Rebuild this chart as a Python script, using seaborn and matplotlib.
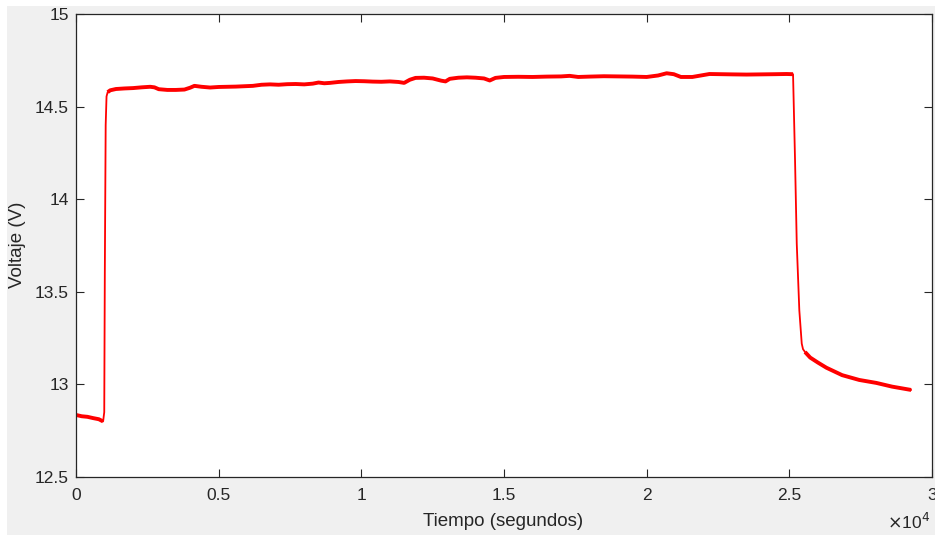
import numpy as np
import pandas as pd
import matplotlib
matplotlib.use("Agg")
import matplotlib.pyplot as plt
from matplotlib.patches import Rectangle
import seaborn as sns

# ---- data ----
tiempo = [0, 200, 400, 600, 800, 950,
          990, 1010, 1040, 1070, 1110,
          1200, 1400, 1700, 2000, 2300, 2600, 2750, 2900, 3200, 3500, 3800,
          4000, 4150, 4400, 4700, 5000, 5300, 5600, 5900, 6200, 6500, 6800,
          7100, 7400, 7700, 8000, 8300, 8500, 8700, 8900, 9200, 9500, 9800,
          10100, 10400, 10700, 11000, 11300, 11500, 11700, 11900, 12200,
          12500, 12800, 12950, 13100, 13400, 13700, 14000, 14300, 14500,
          14700, 15000, 15500, 16000, 16500, 17000, 17300, 17600, 18000,
          18500, 19000, 19500, 20000, 20400, 20700, 20950, 21200, 21600,
          21900, 22200, 22600, 23000, 23500, 24000, 24500, 24900, 25130,
          25200, 25260, 25350, 25435, 25480, 25550,
          25730, 25830, 26000, 26300, 26850, 27450, 28050, 28600, 29270]
voltaje = [12.835, 12.828, 12.825, 12.818, 12.812, 12.800,
           12.85, 13.6, 14.4, 14.555, 14.578,
           14.588, 14.595, 14.598, 14.600, 14.604, 14.607, 14.604, 14.594,
           14.590, 14.590, 14.592,
           14.602, 14.612, 14.607, 14.603, 14.606, 14.607, 14.608, 14.610,
           14.612, 14.618, 14.620,
           14.618, 14.621, 14.622, 14.620, 14.624, 14.630, 14.626, 14.628,
           14.633, 14.636, 14.638,
           14.637, 14.635, 14.634, 14.636, 14.633, 14.628, 14.645, 14.655,
           14.656,
           14.652, 14.640, 14.636, 14.650, 14.656, 14.658, 14.656, 14.652,
           14.641,
           14.655, 14.660, 14.661, 14.660, 14.662, 14.663, 14.666, 14.660,
           14.662,
           14.664, 14.663, 14.662, 14.660, 14.668, 14.680, 14.675, 14.660,
           14.660,
           14.668, 14.676, 14.675, 14.674, 14.673, 14.674, 14.675, 14.676,
           14.675,
           14.21, 13.76, 13.40, 13.22, 13.19, 13.175,
           13.145, 13.135, 13.118, 13.09, 13.05, 13.024, 13.008, 12.988,
           12.970]

xticks = [0, 5000, 10000, 15000, 20000, 25000, 30000]
xtick_labels = ["0", "0.5", "1", "1.5", "2", "2.5", "3"]
yticks = [12.5, 13, 13.5, 14, 14.5, 15]
ytick_labels = ["12.5", "13", "13.5", "14", "14.5", "15"]

df = pd.DataFrame({"t": tiempo, "v": voltaje})

sns.set_theme(style="white")
plt.rcParams["font.family"] = ["Liberation Sans", "DejaVu Sans"]

W, H = 935, 535
fig = plt.figure(figsize=(W / 100, H / 100), dpi=100, facecolor="white")
bg = Rectangle((7 / W, 0), 1 - 7 / W, 529 / H, transform=fig.transFigure,
               facecolor="#f0f0f0", edgecolor="none", zorder=-10)
fig.add_artist(bg)

ax = fig.add_axes([76 / W, (H - 477) / H, (932 - 76) / W, (477 - 14) / H])
ax.set_zorder(5)
ax.set_facecolor("white")

# thin line for the whole trace (transitions)
sns.lineplot(data=df, x="t", y="v", color="#ff0000", linewidth=1.3,
             ax=ax, sort=False)
# thicker (noisy) segments
noisy = [(df.t <= 950), (df.t >= 1110) & (df.t <= 25130), (df.t >= 25550)]
for m in noisy:
    seg = df[m]
    sns.lineplot(data=seg, x="t", y="v", color="#ff0000", linewidth=2.8,
                 ax=ax, sort=False, solid_capstyle="butt")

ax.set_xlim(0, 30000)
ax.set_ylim(12.5, 15)
ax.set_xticks(xticks)
ax.set_xticklabels(xtick_labels)
ax.set_yticks(yticks)
ax.set_yticklabels(ytick_labels)

for s in ax.spines.values():
    s.set_visible(True)
    s.set_color("#262626")
    s.set_linewidth(0.9)

ax.tick_params(axis="both", which="both", direction="in", length=5.5,
               width=0.8, color="#262626", labelsize=12.5, labelcolor="#262626",
               top=True, right=True, bottom=True, left=True)
ax.tick_params(axis="x", pad=8)
ax.tick_params(axis="y", pad=5)

ax.set_xlabel("")
ax.set_ylabel("")
fig.text(503 / W, 1 - 521 / H, "Tiempo (segundos)", ha="center", va="center",
         fontsize=13.5, color="#262626", zorder=6)
fig.text(18 / W, 1 - 245 / H, "Voltaje (V)", ha="center", va="center",
         rotation=90, fontsize=13.5, color="#262626", zorder=6)
fig.text(930 / W, 1 - 522 / H, r"$\times$10$^{4}$", ha="right", va="center",
         fontsize=12.5, color="#262626", zorder=6)

fig.savefig("out.png", dpi=100, facecolor=fig.get_facecolor())
